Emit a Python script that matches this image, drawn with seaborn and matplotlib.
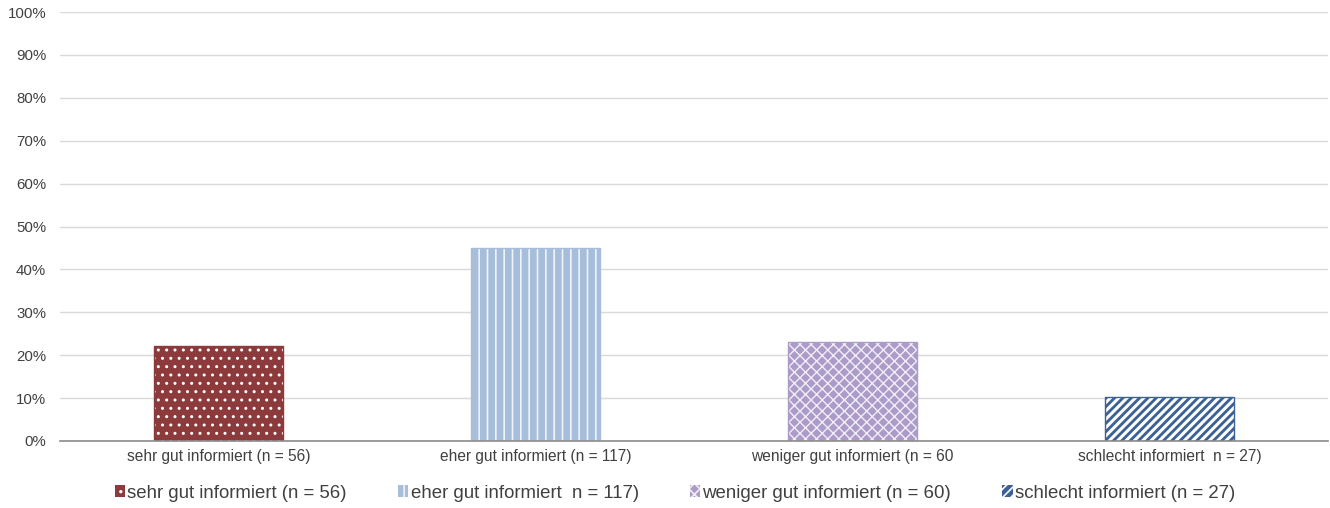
import matplotlib
matplotlib.use("Agg")
import matplotlib.pyplot as plt
from matplotlib.patches import Patch
import seaborn as sns
import pandas as pd

# Categories, shares and legend labels
categories = [
    "sehr gut informiert (n = 56)",
    "eher gut informiert (n = 117)",
    "weniger gut informiert (n = 60",
    "schlecht informiert  n = 27)",
]
legend_labels = [
    "sehr gut informiert (n = 56)",
    "eher gut informiert  n = 117)",
    "weniger gut informiert (n = 60)",
    "schlecht informiert (n = 27)",
]
shares = [22.1, 45.0, 23.1, 10.3]
colors = ["#8C3A3B", "#A7BEDB", "#AB9BC9", "#3B6196"]
hatches = ["..", "||", "xxx", "////"]
hatch_colors = ["white", "#EEF3F9", "#F2EEF8", "white"]
hatch_widths = [1.0, 1.2, 1.0, 2.2]

df = pd.DataFrame({"Kategorie": categories, "Anteil": shares})

sns.set_theme(style="white")
plt.rcParams["font.family"] = ["Liberation Sans", "DejaVu Sans"]
plt.rcParams["hatch.linewidth"] = 1.2
text_color = "#404040"

fig = plt.figure(figsize=(13.3, 5.08), dpi=100)
ax = fig.add_axes([60 / 1330, 1 - 441 / 508, 1268 / 1330, 429 / 508])

sns.barplot(data=df, x="Kategorie", y="Anteil", hue="Kategorie",
            palette=colors, width=0.404, saturation=1, legend=False, ax=ax,
            zorder=3)


def style_hatch(patch, hatch, hcol, hlw):
    patch.set_hatch(hatch)
    patch.set_edgecolor(hcol)
    patch.set_linewidth(0)
    if hasattr(patch, "set_hatch_linewidth"):
        patch.set_hatch_linewidth(hlw)


for patch, hatch, hcol, hlw in zip(ax.patches, hatches, hatch_colors, hatch_widths):
    style_hatch(patch, hatch, hcol, hlw)

# thin outline in each bar's own colour
ax.bar(range(len(shares)), shares, width=0.404, fill=False,
       edgecolor=colors, linewidth=1.0, zorder=4)

ax.set_xlim(-0.5, 3.5)
ax.set_ylim(0, 100)
ax.set_yticks(range(0, 101, 10))
ax.set_yticklabels([f"{v}%" for v in range(0, 101, 10)])
ax.yaxis.grid(True, color="#D9D9D9", linewidth=1.0, zorder=0)
ax.set_axisbelow(True)
for s in ["top", "right", "left"]:
    ax.spines[s].set_visible(False)
ax.spines["bottom"].set_color("#8C8C8C")
ax.spines["bottom"].set_linewidth(1.2)
ax.spines["bottom"].set_zorder(5)
ax.set_xlabel("")
ax.set_ylabel("")
ax.tick_params(axis="both", length=0, colors=text_color)
ax.tick_params(axis="y", pad=10, labelsize=10.8)
ax.tick_params(axis="x", pad=6, labelsize=11.2)

handles = []
for c, h, hcol, hlw, l in zip(colors, hatches, hatch_colors, hatch_widths, legend_labels):
    p = Patch(facecolor=c, label=l)
    style_hatch(p, h, hcol, hlw)
    handles.append(p)
leg = fig.legend(handles=handles, loc="center", bbox_to_anchor=(675 / 1330, 1 - 493 / 508),
                 ncol=4, frameon=False, fontsize=13.4, handlelength=0.55,
                 handleheight=0.55, handletextpad=0.12, columnspacing=2.75)
for t in leg.get_texts():
    t.set_color(text_color)

fig.savefig("out.png", dpi=100)
